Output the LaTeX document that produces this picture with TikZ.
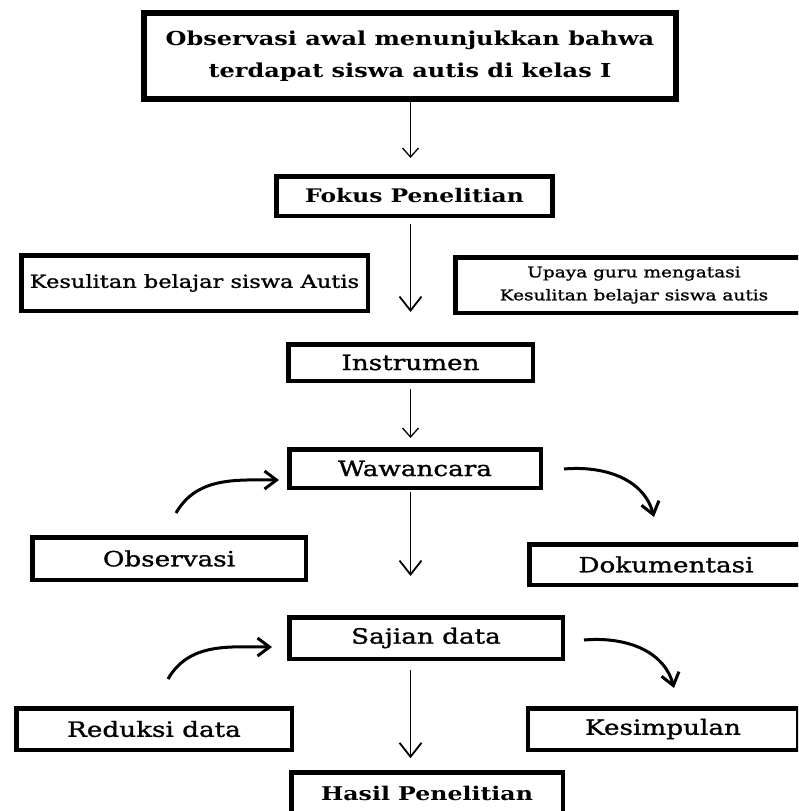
\documentclass[tikz,border=0pt]{standalone}
\usepackage{fontspec}
\setmainfont[FakeStretch=1.25]{DejaVu Serif}
\newfontfamily\labelfont[FakeStretch=1.25,FakeBold=1.2]{DejaVu Serif}
\usepackage{tikz}
\usetikzlibrary{arrows.meta,positioning}

\begin{document}
\begin{tikzpicture}[x=1pt, y=1pt,
    box/.style={draw, line width=4.5pt, inner sep=0pt, align=center, font=\labelfont\fontsize{21}{26}\selectfont},
    arrow/.style={-{Straight Barb[length=14pt,width=22pt]}, line width=1.8pt},
    thinarrow/.style={-{Straight Barb[length=9pt,width=16pt]}, line width=1.3pt},
    curvy/.style={-{Straight Barb[length=12pt,width=18pt]}, line width=3pt}
]
\useasboundingbox (0,0) rectangle (798,-811);
\clip (0,0) rectangle (798,-811);

% Main flow
\node[box, line width=6pt, minimum width=532pt, minimum height=86pt, font=\bfseries\fontsize{19.2}{32}\selectfont] (awal) at (410,-56) {Observasi awal menunjukkan bahwa\\terdapat siswa autis di kelas I};
\node[box, minimum width=276pt, minimum height=39.5pt, font=\bfseries\fontsize{18.7}{22}\selectfont] (fokus) at (414.5,-196) {Fokus Penelitian};
\node[box, minimum width=244.5pt, minimum height=36.5pt] (instrumen) at (410.5,-362.5) {Instrumen};
\node[box, minimum width=251.5pt, minimum height=38.5pt] (wawancara) at (415,-468.5) {Wawancara};
\node[box, minimum width=273.5pt, minimum height=41.5pt] (sajian) at (426,-638) {Sajian data};
\node[box, minimum width=271.5pt, minimum height=41pt, font=\bfseries\fontsize{18.9}{22}\selectfont] (hasil) at (427,-793) {Hasil Penelitian};

% Focus of the study
\node[box, minimum width=346.5pt, minimum height=55.5pt, font=\labelfont\fontsize{18}{22}\selectfont] (kesulitan) at (194.5,-283) {Kesulitan belajar siswa Autis};
\node[box, minimum width=357.5pt, minimum height=55.5pt, font=\labelfont\fontsize{14.8}{23}\selectfont] (upaya) at (634,-285) {Upaya guru mengatasi\\Kesulitan belajar siswa autis};

% Data collection and analysis
\node[box, minimum width=273.5pt, minimum height=42.5pt] (observasi) at (169,-558.5) {Observasi};
\node[box, minimum width=273.5pt, minimum height=40.5pt] (dokumentasi) at (666,-564.5) {Dokumentasi};
\node[box, minimum width=275.5pt, minimum height=41.5pt] (reduksi) at (154,-729) {Reduksi data};
\node[box, minimum width=270pt, minimum height=41.5pt] (kesimpulan) at (663,-729) {Kesimpulan};

% Curved arrow ends
\coordinate (obsout) at (176,-513);
\coordinate (wawin) at (279,-480);
\coordinate (wawout) at (564,-469);
\coordinate (dokin) at (654,-517);
\coordinate (redout) at (168,-679);
\coordinate (sajin) at (272,-647);
\coordinate (sajout) at (584,-640);
\coordinate (kesin) at (674,-688);

% Arrows
\draw[thinarrow, shorten >=16pt] (awal.south -| instrumen) -- (fokus.north -| instrumen);
\draw[arrow, shorten <=6pt, shorten >=30pt] (fokus.south -| instrumen) -- (instrumen.north);
\draw[thinarrow, shorten <=6pt, shorten >=9pt] (instrumen.south) -- (wawancara.north -| instrumen);
\draw[arrow, shorten <=2pt, shorten >=39pt] (wawancara.south -| instrumen) -- (sajian.north -| instrumen);
\draw[arrow, shorten <=9pt, shorten >=12pt] (sajian.south -| instrumen) -- (hasil.north -| instrumen);

\draw[curvy] (obsout) to[out=60, in=180] (wawin);
\draw[curvy] (wawout) to[out=5, in=105] (dokin);
\draw[curvy] (redout) to[out=60, in=180] (sajin);
\draw[curvy] (sajout) to[out=5, in=105] (kesin);

\end{tikzpicture}
\end{document}
